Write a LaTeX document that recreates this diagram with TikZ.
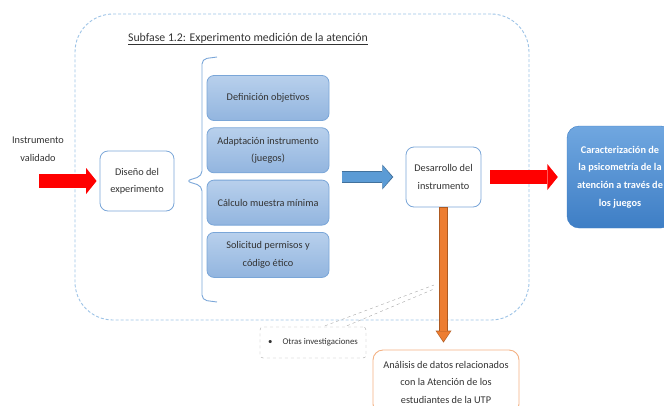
\documentclass[tikz,border=0pt]{standalone}
\usepackage{fontspec}
\setmainfont{Carlito}
\usepackage{tikz}
\usepackage{xcolor}
\usetikzlibrary{arrows.meta, positioning, calc}
\definecolor{phaseblue}{RGB}{157,195,230}
\definecolor{boxborder}{RGB}{122,166,216}
\definecolor{boxtop}{RGB}{184,208,236}
\definecolor{boxbottom}{RGB}{146,181,223}
\definecolor{resulttop}{RGB}{112,167,224}
\definecolor{resultbottom}{RGB}{62,126,197}
\definecolor{arrowblue}{RGB}{91,155,213}
\definecolor{arrowblueline}{RGB}{65,113,156}
\definecolor{arroworange}{RGB}{237,125,49}
\definecolor{arroworangeline}{RGB}{174,90,33}
\definecolor{analysisorange}{RGB}{244,177,131}
\definecolor{calloutgray}{RGB}{166,166,166}

\begin{document}
\begin{tikzpicture}[x=1pt, y=-1pt,
    every node/.style={font=\fontsize{10.3}{17.5}\selectfont, text=black!80, align=center},
    whitebox/.style={draw=boxborder, fill=white, line width=0.8pt, rounded corners=8pt,
        minimum width=74pt, minimum height=60pt, inner sep=2pt},
    taskbox/.style={draw=boxborder, top color=boxtop, bottom color=boxbottom, line width=0.8pt,
        rounded corners=7pt, minimum width=122pt, minimum height=45pt, inner sep=2pt},
    redarrow/.style={draw=red, line width=13.5pt, -{Triangle[width=26pt, length=10.5pt, line width=0pt]}},
    bluearrow/.style={draw=arrowblue, line width=10pt, -{Triangle[width=23pt, length=9.5pt, line width=0pt]}},
    blueedge/.style={draw=arrowblueline, line width=11.4pt, -{Triangle[width=25pt, length=11pt, line width=0pt]}},
    orangearrow/.style={draw=arroworange, line width=7pt, -{Triangle[width=14pt, length=10pt, line width=0pt]}},
    orangeedge/.style={draw=arroworangeline, line width=8.6pt, -{Triangle[width=16pt, length=12pt, line width=0pt]}}]

    \useasboundingbox (0,0) rectangle (664,405);

    % Subfase container
    \node[draw=phaseblue, line width=0.9pt, dash pattern=on 3pt off 2pt, rounded corners=38pt,
        minimum width=454pt, minimum height=306pt] (phase) at (302,167) {};
    \node[font=\fontsize{11.8}{14}\selectfont] (title) at (248,39)
        {\underline{Subfase 1.2: Experimento medición de la atención}};

    % Input
    \node (input) at (38,149) {Instrumento\\validado};
    \coordinate (inStart) at (39,181);
    \node[whitebox] (dis) at (137,181) {Diseño del\\experimento};
    \draw[redarrow, shorten >=3pt] (inStart) -- (dis.west);

    % Tasks
    \node[taskbox] (obj) at (268,98) {Definición objetivos};
    \node[taskbox] (ada) at (268,150.3) {Adaptación instrumento\\(juegos)};
    \node[taskbox] (cal) at (268,202.6) {Cálculo muestra mínima};
    \node[taskbox] (sol) at (268,254.9) {Solicitud permisos y\\código ético};

    % Brace
    \draw[boxborder, line width=0.9pt, rounded corners=5pt]
        (217,57) -- (202,59) -- (202,176) -- (186,181) -- (202,186) -- (202,300) -- (217,302);

    % Development
    \node[whitebox, minimum width=75pt] (des) at (443.5,177) {Desarrollo del\\instrumento};
    \draw[blueedge, shorten <=12.3pt, shorten >=12.3pt] (des.west -| obj.east) -- (des.west);
    \draw[bluearrow, shorten <=13pt, shorten >=13.6pt] (des.west -| obj.east) -- (des.west);

    % Result
    \node[draw=resultbottom, top color=resulttop, bottom color=resultbottom, rounded corners=12pt,
        minimum width=106pt, minimum height=102pt, text=white,
        font=\fontsize{10.3}{17.7}\selectfont\bfseries] (car) at (620,177)
        {Caracterización de\\la psicometría de la\\atención a través de\\los juegos};
    \draw[redarrow, shorten <=9pt, shorten >=9pt] (des.east) -- (car.west);

    % Analysis
    \node[draw=analysisorange, fill=white, line width=0.9pt, rounded corners=10pt,
        minimum width=146pt, minimum height=64pt] (ana) at (446,382)
        {Análisis de datos relacionados\\con la Atención de los\\estudiantes de la UTP};
    \draw[orangeedge, shorten >=7pt] (des.south) -- (des.south |- ana.north);
    \draw[orangearrow, shorten <=0.8pt, shorten >=8.3pt] (des.south) -- (des.south |- ana.north);

    % Callout
    \node[draw=calloutgray, dashed, rounded corners=3pt, minimum width=106pt, minimum height=31pt,
        font=\fontsize{8.8}{10}\selectfont] (otras) at (313,342.5)
        {\textbullet\hspace{10pt}Otras investigaciones};
    \coordinate (callTip) at (434,285);
    \draw[calloutgray, dashed] ($(otras.north)+(12,-1)$) -- (callTip);
    \draw[calloutgray, dashed] ($(otras.north)+(34,-1)$) -- ($(callTip)+(0,4)$);
\end{tikzpicture}
\end{document}
